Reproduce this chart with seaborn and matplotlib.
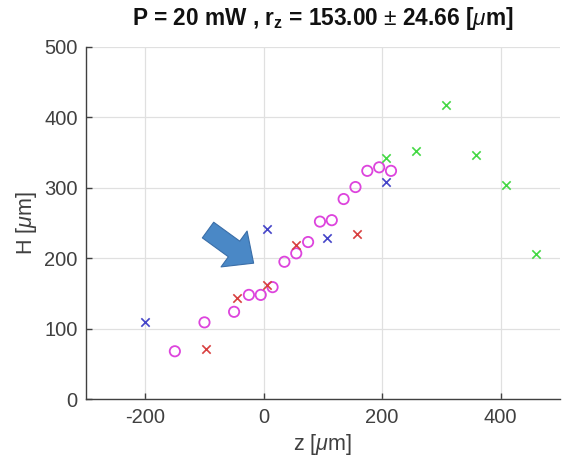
import matplotlib
matplotlib.use("Agg")
import matplotlib.pyplot as plt
import seaborn as sns

sns.set_theme(style="white")
plt.rcParams['font.family'] = ['Liberation Sans', 'DejaVu Sans']
plt.rcParams['mathtext.fontset'] = 'custom'
plt.rcParams['mathtext.rm'] = 'Liberation Sans'
plt.rcParams['mathtext.it'] = 'Liberation Sans:italic'
plt.rcParams['mathtext.bf'] = 'Liberation Sans:bold'
plt.rcParams['axes.unicode_minus'] = False

# data
circ_z = [-150, -100, -50, -25, -5, 15, 35, 55, 75, 95, 115, 135, 155, 175, 195, 215]
circ_h = [68, 109, 124, 148, 148, 159, 195, 207, 223, 252, 254, 284, 301, 324, 329, 324]
red_z = [-97, -45, 5, 55, 157]
red_h = [71, 143, 162, 219, 234]
blue_z = [-200, 5, 107, 207]
blue_h = [110, 241, 229, 308]
green_z = [207, 257, 308, 358, 410, 460]
green_h = [342, 352, 418, 347, 304, 206]
xticks = [-200, 0, 200, 400]
yticks = [0, 100, 200, 300, 400, 500]

fig = plt.figure(figsize=(5.66, 4.68), dpi=100)
ax = fig.add_axes([0.152, 0.147, 0.837, 0.753])

sns.scatterplot(x=circ_z, y=circ_h, ax=ax, marker='o', s=55,
                facecolor='none', edgecolor='#dd44dd', linewidth=1.3, zorder=3)
sns.scatterplot(x=red_z, y=red_h, ax=ax, marker='x', s=36,
                color='#d84040', linewidth=1.2, zorder=3)
sns.scatterplot(x=blue_z, y=blue_h, ax=ax, marker='x', s=36,
                color='#4444c8', linewidth=1.2, zorder=3)
sns.scatterplot(x=green_z, y=green_h, ax=ax, marker='x', s=36,
                color='#44d844', linewidth=1.2, zorder=3)

# arrow annotation
ax.annotate('', xy=(-17, 193), xytext=(-94, 240),
            arrowprops=dict(arrowstyle='simple,head_length=0.6,head_width=1.1,tail_width=0.48',
                            fc='#4a88c6', ec='#3a6ea8', lw=0.8, mutation_scale=29,
                            shrinkA=0, shrinkB=0),
            zorder=4)

ax.set_xlim(-300, 500)
ax.set_ylim(0, 500)
ax.set_xticks(xticks)
ax.set_yticks(yticks)
ax.grid(True, color='#e0e0e0', linewidth=0.9)
ax.set_axisbelow(True)
for s in ['top', 'right']:
    ax.spines[s].set_visible(False)
for s in ['left', 'bottom']:
    ax.spines[s].set_color('#404040')
    ax.spines[s].set_linewidth(1.0)
ax.tick_params(direction='in', length=4, width=1.0, colors='#404040',
               labelsize=14.5, labelcolor='#404040', left=True, bottom=True, pad=6)
ax.set_xlabel(r'z [$\mu$m]', fontsize=15.5, color='#404040', labelpad=4)
ax.set_ylabel(r'H [$\mu$m]', fontsize=15.5, color='#404040', labelpad=4)
ax.set_title(r'P = 20 mW , r$_{\mathbf{z}}$ = 153.00 $\pm$ 24.66 [$\mu$m]',
             fontsize=16.3, fontweight='bold', color='#111111', pad=16)

fig.savefig('out.png', dpi=100)
